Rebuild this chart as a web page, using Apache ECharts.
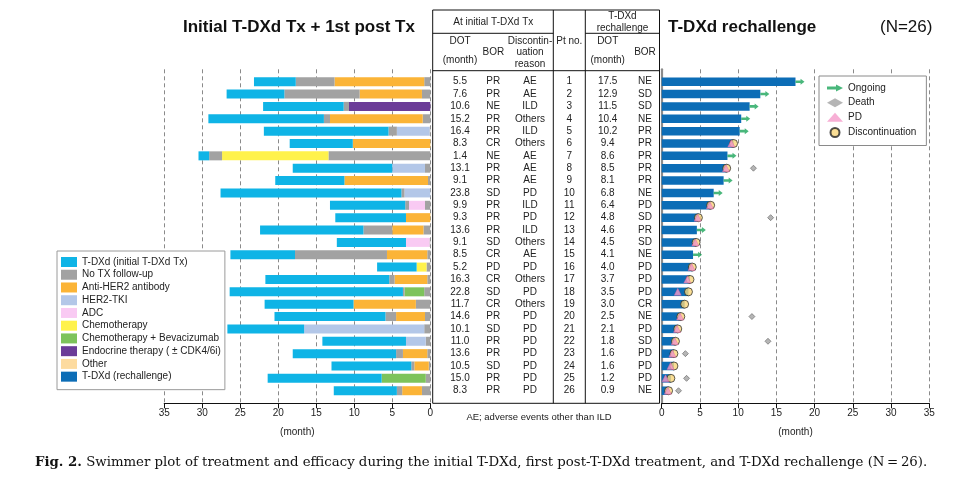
<!DOCTYPE html>
<html><head><meta charset="utf-8">
<script src="https://cdn.jsdelivr.net/npm/echarts@6/dist/echarts.min.js"></script>
<style>html,body{margin:0;padding:0;background:#fff}#c{width:978px;height:483px}</style>
</head><body><div id="c"></div>
<script>
// ---------------- data ----------------
const patients = ['1','2','3','4','5','6','7','8','9','10','11','12','13','14','15','16','17','18','19','20','21','22','23','24','25','26'];
const initialDOT = [5.5,7.6,10.6,15.2,16.4,8.3,1.4,13.1,9.1,23.8,9.9,9.3,13.6,9.1,8.5,5.2,16.3,22.8,11.7,14.6,10.1,11.0,13.6,10.5,15.0,8.3];
const initialBOR = ['PR','PR','NE','PR','PR','CR','NE','PR','PR','SD','PR','PR','PR','SD','CR','PD','CR','SD','CR','PR','SD','PR','PR','SD','PR','PR'];
const discReason = ['AE','AE','ILD','Others','ILD','Others','AE','AE','AE','PD','ILD','PD','ILD','Others','AE','PD','Others','PD','Others','PD','PD','PD','PD','PD','PD','PD'];
const rechallengeDOT = [17.5,12.9,11.5,10.4,10.2,9.4,8.6,8.5,8.1,6.8,6.4,4.8,4.6,4.5,4.1,4.0,3.7,3.5,3.0,2.5,2.1,1.8,1.6,1.6,1.2,0.9];
const rechallengeBOR = ['NE','SD','SD','NE','PR','PR','PR','PR','PR','NE','PD','SD','PR','SD','NE','PD','PD','PD','CR','NE','PD','SD','PD','PD','PD','NE'];
// no-treatment interval after initial T-DXd (months)
const gapBefore = [5.1,9.9,0.7,0.8,1.1,0,1.7,0,0,0.4,0.5,0,3.8,0,12.1,0,0.7,0.2,0,1.4,0,0,0.9,0.4,0,0.7];
// first post-T-DXd treatment
const postTxType = ['AH','AH','ET','AH','TKI','AH','CT','TKI','AH','TKI','ADC','AH','AH','ADC','AH','CT','AH','CTB','AH','AH','TKI','TKI','AH','AH','CTB','AH'];
const postTxDur = [11.8,8.2,10.7,12.2,4.3,10.2,14.0,4.3,11.0,3.4,2.1,3.2,4.1,3.1,5.3,1.3,4.3,2.6,8.2,3.8,15.8,2.6,3.2,1.9,5.8,2.6];
// no-treatment interval before rechallenge (months)
const gapAfter = [0.8,1.1,0,1.0,0.1,0,13.4,0.7,0.3,0,0.7,0,0.9,0.1,0.4,0.5,0.4,0.8,1.9,0.7,0.8,0.6,0.4,0.2,0.6,1.1];
// rechallenge events
const ongoingPts = ['1','2','3','4','5','7','9','10','13','15'];
const pdTime = [null,null,null,null,null,9.1,null,8.4,null,null,6.3,4.7,null,4.4,null,3.9,3.35,2.1,null,2.4,2.0,1.7,1.4,1.15,0.5,0.8];
const deathTime = [null,null,null,null,null,null,null,12.0,null,null,null,14.25,null,null,null,null,null,null,null,11.8,null,13.9,3.1,null,3.25,2.2];
const treatmentCodes = ['AH','TKI','ADC','CT','CTB','ET','OT'];
const treatmentNames = {AH:'Anti-HER2 antibody',TKI:'HER2-TKI',ADC:'ADC',CT:'Chemotherapy',CTB:'Chemotherapy + Bevacizumab',ET:'Endocrine therapy ( ± CDK4/6i)',OT:'Other'};

// ---------------- style ----------------
const FONT = 'Liberation Sans, Arial, Helvetica, sans-serif';
const SERIF = 'DejaVu Serif, Liberation Serif, serif';
const colors = {
  init:'#0fb4e6', gap:'#a2a2a2', AH:'#fbb437', TKI:'#b3c7e8', ADC:'#f9caf3', CT:'#fff24c',
  CTB:'#7dc35b', ET:'#6b3c98', OT:'#fddb9f', rech:'#0c6db6'
};
const ARROW = 'path://M0,2 L9,2 L9,0 L16,3.5 L9,7 L9,5 L0,5 Z';

const chart = echarts.init(document.getElementById('c'), null, {renderer:'canvas'});

const frameTop = 69.3, frameH = 334, barTop = 75.5, barH = 321.4;
const LL = 164.3, LW = 266, RL = 661.7, RW = 267.6;

function xAxisVisible(gi, inverse){
  return {
    gridIndex: gi, type:'value', inverse: inverse, min:0, max:35, interval:5,
    axisLine:{show:true, onZero:false, lineStyle:{color:'#111', width:1.2}},
    axisTick:{show:true, length:5, inside:false, lineStyle:{color:'#111'}},
    axisLabel:{show:true, fontSize:10, color:'#222', margin:5, fontFamily:FONT},
    splitLine:{show:true, lineStyle:{type:[4,3], color:'#8a8a8a', width:1}},
    name:'(month)', nameLocation:'middle', nameGap:24,
    nameTextStyle:{fontSize:10, color:'#222', fontFamily:FONT}
  };
}
function hiddenX(gi, inverse){ return {gridIndex:gi, type:'value', inverse:inverse, min:0, max:35, show:false}; }

const series = [];
// left stacked bars: from time 0 (right) leftwards
series.push({name:'No TX follow-up', type:'bar', stack:'L', xAxisIndex:1, yAxisIndex:1, barWidth:9,
  itemStyle:{color:colors.gap}, data: gapAfter});
treatmentCodes.forEach(code => {
  series.push({name: treatmentNames[code], type:'bar', stack:'L', xAxisIndex:1, yAxisIndex:1, barWidth:9,
    itemStyle:{color:colors[code]}, data: postTxDur.map((d,i) => postTxType[i] === code ? d : 0)});
});
series.push({name:'No TX follow-up', type:'bar', stack:'L', xAxisIndex:1, yAxisIndex:1, barWidth:9,
  itemStyle:{color:colors.gap}, data: gapBefore});
series.push({name:'T-DXd (initial T-DXd Tx)', type:'bar', stack:'L', xAxisIndex:1, yAxisIndex:1, barWidth:9,
  itemStyle:{color:colors.init}, data: initialDOT});
// right
series.push({name:'T-DXd (rechallenge)', type:'bar', xAxisIndex:3, yAxisIndex:3, barWidth:8.5,
  itemStyle:{color:colors.rech}, data: rechallengeDOT});
series.push({name:'Ongoing', type:'scatter', xAxisIndex:3, yAxisIndex:3, symbol:ARROW, symbolSize:[9,6],
  symbolOffset:[4.5,0], itemStyle:{color:'#1ca55a'}, z:5,
  data: ongoingPts.map(p => [rechallengeDOT[patients.indexOf(p)], p])});
series.push({name:'Death', type:'scatter', xAxisIndex:3, yAxisIndex:3, symbol:'diamond', symbolSize:6,
  itemStyle:{color:'#a3a3a3', borderColor:'#555', borderWidth:0.7}, z:5,
  data: deathTime.map((t,i) => t == null ? null : [t, patients[i]]).filter(Boolean)});
series.push({name:'Discontinuation', type:'scatter', xAxisIndex:3, yAxisIndex:3, symbol:'circle', symbolSize:8,
  itemStyle:{color:'#f9d67b', borderColor:'#222', borderWidth:0.9}, z:5,
  data: patients.filter(p => ongoingPts.indexOf(p) < 0).map(p => [rechallengeDOT[patients.indexOf(p)], p])});
series.push({name:'PD', type:'scatter', xAxisIndex:3, yAxisIndex:3, symbol:'triangle', symbolSize:7,
  itemStyle:{color:'#f59bcb', borderColor:'#e0609f', borderWidth:0.5}, z:6,
  data: pdTime.map((t,i) => t == null ? null : [t, patients[i]]).filter(Boolean)});
series.forEach(s => { s.animation = false; s.emphasis = {disabled:true}; });

const option = {
  animation:false,
  backgroundColor:'#fff',
  title:[
    {text:'Initial T-DXd Tx + 1st post Tx', left:183, top:19, padding:0,
      textStyle:{fontSize:17, fontWeight:'bold', color:'#111', fontFamily:FONT}},
    {text:'T-DXd rechallenge', left:668, top:19, padding:0,
      textStyle:{fontSize:17, fontWeight:'bold', color:'#111', fontFamily:FONT}},
    {text:'(N=26)', left:880, top:19, padding:0,
      textStyle:{fontSize:17, fontWeight:'normal', color:'#111', fontFamily:FONT}},
    {text:'{b|Fig. 2.} Swimmer plot of treatment and efficacy during the initial T-DXd, first post-T-DXd treatment, and T-DXd rechallenge (N\u2009=\u200926).',
      left:35, top:456, padding:0,
      textStyle:{fontSize:13.3, fontWeight:'normal', color:'#111', fontFamily:SERIF,
        rich:{b:{fontWeight:'bold', fontSize:13.3, fontFamily:SERIF, color:'#111'}}}}
  ],
  legend:[
    {data:['T-DXd (initial T-DXd Tx)','No TX follow-up','Anti-HER2 antibody','HER2-TKI','ADC','Chemotherapy','Chemotherapy + Bevacizumab','Endocrine therapy ( ± CDK4/6i)','Other','T-DXd (rechallenge)'],
      orient:'vertical', left:57, top:251, itemWidth:16, itemHeight:10, itemGap:2.74, icon:'rect',
      padding:[6,4,8,4], borderColor:'#9a9a9a', borderWidth:1, backgroundColor:'#fff', selectedMode:false,
      textStyle:{fontSize:10, color:'#222', fontFamily:FONT}},
    {data:[{name:'Ongoing', icon:ARROW},
           {name:'Death', icon:'diamond', itemStyle:{borderWidth:0}},
           {name:'PD', icon:'triangle', itemStyle:{borderWidth:0}},
           {name:'Discontinuation', icon:'circle'}],
      orient:'vertical', left:819, top:76, itemWidth:16, itemHeight:9, itemGap:4.67,
      padding:[7,10,7.5,8], borderColor:'#8a8a8a', borderWidth:1, backgroundColor:'#fff', selectedMode:false,
      textStyle:{fontSize:10, color:'#222', fontFamily:FONT}}
  ],
  grid:[
    {left:LL, width:LW, top:frameTop, height:frameH, containLabel:false, outerBoundsMode:'none'},
    {left:LL, width:LW, top:barTop, height:barH, containLabel:false, outerBoundsMode:'none'},
    {left:RL, width:RW, top:frameTop, height:frameH, containLabel:false, outerBoundsMode:'none'},
    {left:RL, width:RW, top:barTop, height:barH, containLabel:false, outerBoundsMode:'none'}
  ],
  xAxis:[ xAxisVisible(0,true), hiddenX(1,true), xAxisVisible(2,false), hiddenX(3,false) ],
  yAxis:[
    {gridIndex:0, type:'value', min:0, max:27, show:false},
    {gridIndex:1, type:'category', data:patients, inverse:true, show:false},
    {gridIndex:2, type:'value', min:0, max:27, show:true,
      axisLine:{show:true, onZero:false, lineStyle:{color:'#8c8c8c', width:2.2}},
      axisTick:{show:false}, axisLabel:{show:false}, splitLine:{show:false}},
    {gridIndex:3, type:'category', data:patients, inverse:true, show:false}
  ],
  series: series
};
chart.setOption(option);

// ---------------- table (text in the middle) ----------------
const rowY = patients.map((p,i) => {
  const v = chart.convertToPixel({yAxisIndex:1}, i);
  return (typeof v === 'number' && isFinite(v)) ? v : barTop + (i + 0.5) * barH / patients.length;
});
const TL = 432.7, TC1 = 553.3, TC2 = 585.3, TR = 659.5, TT = 10, TB = 403.3;
const col = {dot:460, bor:493.3, reason:530, pt:569.3, rdot:607.7, rbor:645};
const g = [];
function line(x1,y1,x2,y2){ g.push({type:'line', silent:true, z:10, shape:{x1,y1,x2,y2}, style:{stroke:'#111', lineWidth:1}}); }
function txt(s,x,y,size){ g.push({type:'text', silent:true, z:10, x:x, y:y,
  style:{text:s, textAlign:'center', textVerticalAlign:'middle', fill:'#222', font:(size||10)+'px '+FONT}}); }
line(TL,TT,TR,TT); line(TL,TT,TL,TB); line(TC1,TT,TC1,TB); line(TC2,TT,TC2,TB); line(TR,TT,TR,TB);
line(TL,33.3,TC1,33.3); line(TC2,33.3,TR,33.3); line(TL,70.7,TR,70.7); line(TL,TB,TR,TB);
txt('At initial T-DXd Tx', 493.3, 22.5);
txt('T-DXd', 622.5, 16); txt('rechallenge', 622.5, 28.5);
txt('DOT', col.dot, 41.7); txt('(month)', col.dot, 60);
txt('BOR', col.bor, 52.7);
txt('Discontin-', col.reason, 41.2); txt('uation', col.reason, 52.7); txt('reason', col.reason, 64.3);
txt('Pt no.', col.pt, 41.7);
txt('DOT', col.rdot, 41.7); txt('(month)', col.rdot, 60);
txt('BOR', col.rbor, 52.7);
patients.forEach((p,i) => {
  const y = rowY[i];
  txt(initialDOT[i].toFixed(1), col.dot, y);
  txt(initialBOR[i], col.bor, y);
  txt(discReason[i], col.reason, y);
  txt(p, col.pt, y);
  txt(rechallengeDOT[i].toFixed(1), col.rdot, y);
  txt(rechallengeBOR[i], col.rbor, y);
});
txt('AE; adverse events other than ILD', 539, 417, 9.5);
chart.setOption({graphic:{elements:g}});
</script>
</body></html>
